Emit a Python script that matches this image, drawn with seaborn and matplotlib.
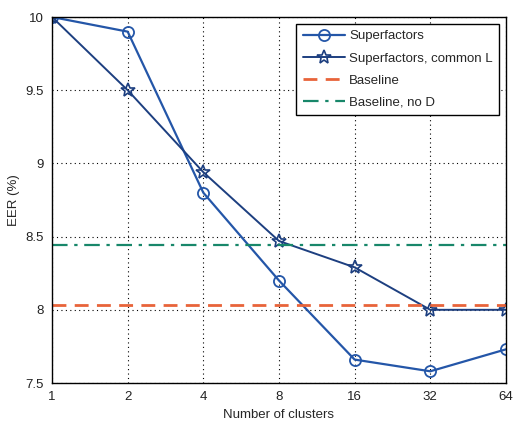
import matplotlib
matplotlib.use("Agg")
import matplotlib.pyplot as plt
import seaborn as sns
import pandas as pd

clusters = [1, 2, 4, 8, 16, 32, 64]
superfactors = [10.0, 9.90, 8.80, 8.20, 7.66, 7.58, 7.73]
superfactors_common_l = [10.0, 9.50, 8.94, 8.47, 8.29, 8.00, 8.00]
baseline = 8.03
baseline_no_d = 8.44
xtick_labels = ["1", "2", "4", "8", "16", "32", "64"]
yticks = [7.5, 8, 8.5, 9, 9.5, 10]
ytick_labels = ["7.5", "8", "8.5", "9", "9.5", "10"]

sns.set_style("white")
plt.rcParams['font.family'] = ['Liberation Sans', 'DejaVu Sans']

fig = plt.figure(figsize=(5.17, 4.22), dpi=100)
ax = fig.add_axes([0.1006, 0.0924, 0.878, 0.8673])

df1 = pd.DataFrame({"x": clusters, "y": superfactors})
df2 = pd.DataFrame({"x": clusters, "y": superfactors_common_l})

sns.lineplot(data=df1, x="x", y="y", ax=ax, color="#2456a8", lw=1.6,
             marker="o", markersize=8, markerfacecolor="none",
             markeredgecolor="#2456a8", markeredgewidth=1.3, label="Superfactors")
sns.lineplot(data=df2, x="x", y="y", ax=ax, color="#1d3f80", lw=1.4,
             marker="*", markersize=10, markerfacecolor="none",
             markeredgecolor="#1d3f80", markeredgewidth=1.2, label="Superfactors, common L")
ax.axhline(baseline, color="#e8643a", lw=2.0, ls=(0, (5, 3)), label="Baseline")
ax.axhline(baseline_no_d, color="#18876a", lw=1.6, ls=(0, (7, 3, 1.5, 3)), label="Baseline, no D")

ax.set_xscale("log", base=2)
ax.set_xlim(1, 64)
ax.set_ylim(7.5, 10)
ax.set_xticks(clusters)
ax.set_xticklabels(xtick_labels)
ax.minorticks_off()
ax.set_yticks(yticks)
ax.set_yticklabels(ytick_labels)
ax.grid(True, color="black", ls=(0, (1, 3)), lw=0.8)
ax.tick_params(direction="in", length=4, labelsize=9.5, colors="#222222", pad=6)
for s in ax.spines.values():
    s.set_color("black")
    s.set_linewidth(1.0)

ax.set_xlabel("Number of clusters", fontsize=9.5, labelpad=4)
ax.set_ylabel("EER (%)", fontsize=9.5, labelpad=4)

leg = ax.legend(loc="upper right", fontsize=9.5, frameon=True, fancybox=False,
                edgecolor="black", framealpha=1, borderaxespad=0.5,
                handlelength=3.2, handletextpad=0.3, labelspacing=0.75,
                borderpad=0.5)
leg.get_frame().set_linewidth(1.0)

fig.savefig("out.png", dpi=100)
